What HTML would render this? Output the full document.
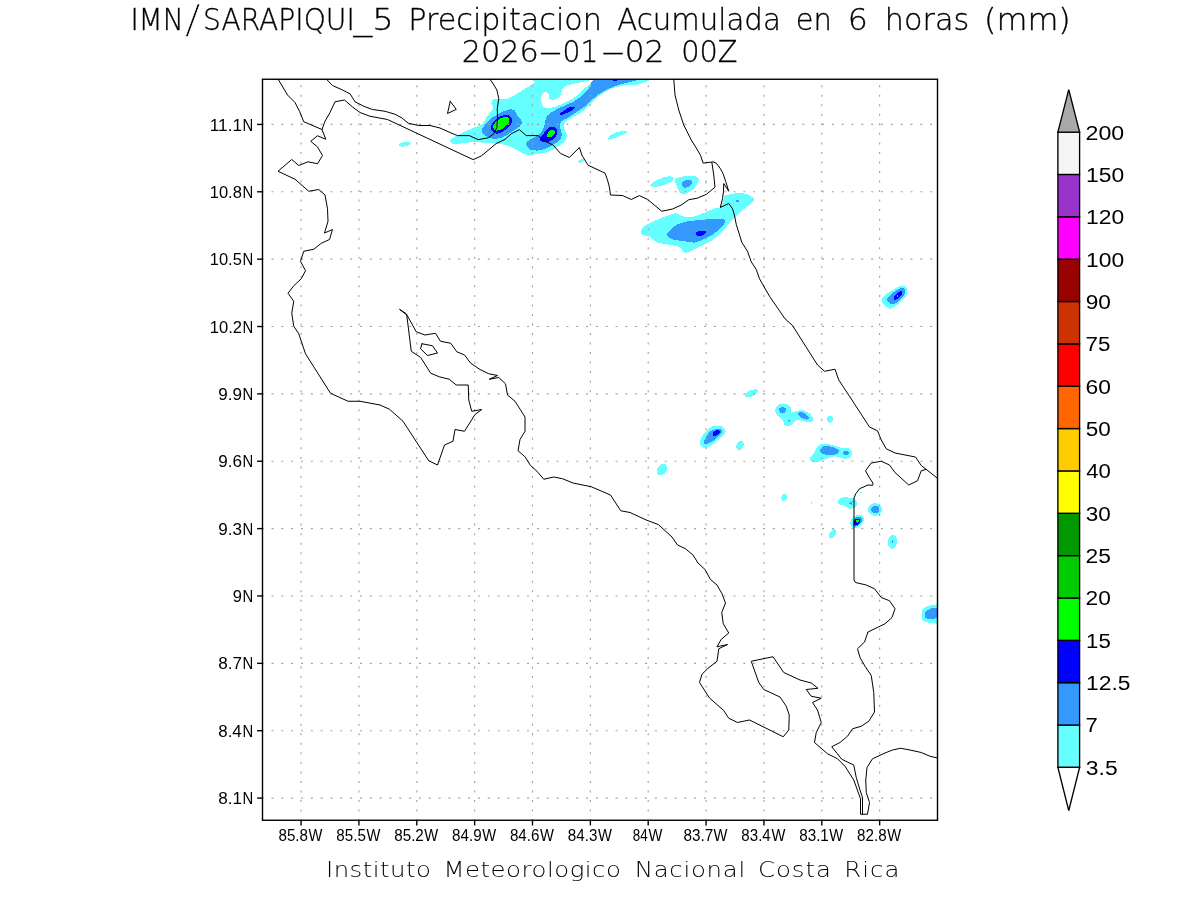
<!DOCTYPE html>
<html lang="es"><head><meta charset="utf-8"><title>IMN/SARAPIQUI_5 Precipitacion Acumulada en 6 horas (mm)</title>
<style>
html,body{margin:0;padding:0;background:#fff;}
body{width:1200px;height:900px;overflow:hidden;}
svg{display:block;}
.thin{font-family:"DejaVu Sans Light","DejaVu Sans","Liberation Sans",sans-serif;font-weight:200;}
.lab{font-family:"Liberation Sans","DejaVu Sans",sans-serif;}
.coast{fill:none;stroke:#000;stroke-width:1.0;stroke-linejoin:round;stroke-linecap:round;}
.grid{fill:none;stroke:#a2a2a2;stroke-width:1.15;}
.tick{stroke:#000;stroke-width:1.4;fill:none;}
</style></head><body>
<svg width="1200" height="900" viewBox="0 0 1200 900">
<rect width="1200" height="900" fill="#fff"/>
<defs><clipPath id="pc"><rect x="262.5" y="79.25" width="675.0" height="741.0"/></clipPath></defs>
<g clip-path="url(#pc)" shape-rendering="crispEdges">
<path d="M450 140 C450.35 139.20 452.51 138.30 453.75 137.5 C454.99 136.70 456.27 135.62 458.75 134.38 C461.23 133.14 467.89 130.26 471.25 128.75 C474.61 127.24 480.38 125.34 482.5 123.75 C484.62 122.16 485.01 119.27 486.25 117.5 C487.49 115.73 490.28 112.67 491.25 111.25 C492.22 109.83 493.12 108.56 493.12 107.5 C493.12 106.44 491.25 104.90 491.25 103.75 C491.25 102.60 492.06 100.09 493.12 99.38 C494.18 98.67 496.71 98.84 498.75 98.75 C500.79 98.66 505.20 99.28 507.5 98.75 C509.80 98.22 512.52 96.42 515 95 C517.48 93.58 522.17 90.52 525 88.75 C527.83 86.98 532.88 83.85 535 82.5 C537.12 81.15 524.59 79.71 540 79.25 C555.41 78.79 629.94 78.52 643.75 79.25 C657.56 79.98 640.16 83.57 637.5 84.38 C634.84 85.19 628.90 84.29 625 85 C621.10 85.71 613.72 87.79 610 89.38 C606.28 90.97 601.58 94.04 598.75 96.25 C595.92 98.46 592.48 102.70 590 105 C587.52 107.30 583.91 110.64 581.25 112.5 C578.59 114.36 573.55 116.70 571.25 118.12 C568.95 119.54 565.97 120.99 565 122.5 C564.03 124.01 564.11 126.80 564.38 128.75 C564.65 130.70 566.97 134.30 566.88 136.25 C566.79 138.20 565.26 140.91 563.75 142.5 C562.24 144.09 558.73 146.08 556.25 147.5 C553.77 148.92 549.26 151.53 546.25 152.5 C543.24 153.47 537.66 154.03 535 154.38 C532.34 154.73 529.27 155.18 527.5 155 C525.73 154.82 524.27 154.01 522.5 153.12 C520.73 152.23 517.48 149.90 515 148.75 C512.52 147.60 508.19 145.80 505 145 C501.81 144.20 495.86 143.47 492.5 143.12 C489.14 142.77 484.61 142.59 481.25 142.5 C477.89 142.41 472.47 142.23 468.75 142.5 C465.03 142.77 457.48 144.29 455 144.38 C452.52 144.47 451.96 143.74 451.25 143.12 C450.54 142.50 449.65 140.80 450 140Z" fill="#66ffff"/>
<path d="M541.25 96.25 C541.69 94.57 543.94 92.23 545 91.88 C546.06 91.53 548.22 92.87 548.75 93.75 C549.28 94.63 548.04 97.23 548.75 98.12 C549.46 99.01 552.16 100.26 553.75 100 C555.34 99.74 558.67 97.93 560 96.25 C561.33 94.57 561.88 89.71 563.12 88.12 C564.36 86.53 566.36 85.80 568.75 85 C571.14 84.20 576.55 83.24 580 82.5 C583.45 81.76 591.79 79.54 593.12 79.75 C594.45 79.96 591.06 82.37 589.38 84 C587.70 85.63 583.11 89.51 581.25 91.25 C579.39 92.99 577.84 95.01 576.25 96.25 C574.66 97.49 572.12 98.85 570 100 C567.88 101.15 563.73 103.32 561.25 104.38 C558.77 105.44 554.80 107.02 552.5 107.5 C550.20 107.98 546.50 108.28 545 107.75 C543.50 107.22 542.41 105.38 541.88 103.75 C541.35 102.12 540.81 97.93 541.25 96.25Z" fill="#ffffff"/>
<path d="M481.88 130 C482.23 128.40 484.75 124.89 486.25 123.12 C487.75 121.35 490.20 119.09 492.5 117.5 C494.80 115.91 500.02 113.03 502.5 111.88 C504.98 110.73 508.23 109.56 510 109.38 C511.77 109.20 513.94 109.65 515 110.62 C516.06 111.59 516.53 114.74 517.5 116.25 C518.47 117.76 521.53 119.83 521.88 121.25 C522.23 122.67 521.33 124.83 520 126.25 C518.67 127.67 514.62 129.83 512.5 131.25 C510.38 132.67 507.12 135.19 505 136.25 C502.88 137.31 499.62 138.49 497.5 138.75 C495.38 139.01 491.95 138.74 490 138.12 C488.05 137.50 484.90 135.53 483.75 134.38 C482.60 133.23 481.53 131.60 481.88 130Z" fill="#3399ff"/>
<path d="M491 126.25 C491.26 124.92 492.48 122.67 493.75 121.25 C495.02 119.83 498.05 117.14 500 116.25 C501.95 115.36 505.91 114.82 507.5 115 C509.09 115.18 510.63 116.44 511.25 117.5 C511.87 118.56 512.41 121.00 511.88 122.5 C511.35 124.00 509.01 126.70 507.5 128.12 C505.99 129.54 502.84 131.70 501.25 132.5 C499.66 133.30 497.58 134.02 496.25 133.75 C494.92 133.48 492.62 131.68 491.88 130.62 C491.14 129.56 490.74 127.58 491 126.25Z" fill="#0000ff"/>
<path d="M493.12 126.25 C493.47 125.19 494.92 122.49 496.25 121.25 C497.58 120.01 500.82 118.03 502.5 117.5 C504.18 116.97 507.15 116.97 508.12 117.5 C509.09 118.03 509.64 120.10 509.38 121.25 C509.12 122.40 507.40 124.47 506.25 125.62 C505.10 126.77 502.67 128.67 501.25 129.38 C499.83 130.09 497.31 130.71 496.25 130.62 C495.19 130.53 494.19 129.37 493.75 128.75 C493.31 128.13 492.77 127.31 493.12 126.25Z" fill="#00ff00"/>
<path d="M526.25 145 C525.90 143.85 526.44 142.31 527.5 141.25 C528.56 140.19 531.98 138.56 533.75 137.5 C535.52 136.44 538.58 135.17 540 133.75 C541.42 132.33 542.86 129.80 543.75 127.5 C544.64 125.20 545.54 119.36 546.25 117.5 C546.96 115.64 547.16 115.62 548.75 114.38 C550.34 113.14 555.20 109.99 557.5 108.75 C559.80 107.51 562.34 106.86 565 105.62 C567.66 104.38 573.59 101.68 576.25 100 C578.91 98.32 581.80 95.61 583.75 93.75 C585.70 91.89 588.23 88.93 590 86.88 C591.77 84.83 589.52 80.33 596.25 79.25 C602.98 78.17 633.07 78.79 637.5 79.25 C641.93 79.71 630.69 81.51 627.5 82.5 C624.31 83.49 618.54 84.92 615 86.25 C611.46 87.58 605.51 90.20 602.5 91.88 C599.49 93.56 596.05 96.17 593.75 98.12 C591.45 100.07 588.55 103.76 586.25 105.62 C583.95 107.48 580.16 109.48 577.5 111.25 C574.84 113.02 569.80 116.70 567.5 118.12 C565.20 119.54 562.31 119.92 561.25 121.25 C560.19 122.58 559.91 125.55 560 127.5 C560.09 129.45 562.06 133.05 561.88 135 C561.70 136.95 560.08 139.83 558.75 141.25 C557.42 142.67 554.45 143.94 552.5 145 C550.55 146.06 547.12 147.95 545 148.75 C542.88 149.55 539.62 150.53 537.5 150.62 C535.38 150.71 531.59 150.18 530 149.38 C528.41 148.58 526.60 146.15 526.25 145Z" fill="#3399ff"/>
<path d="M540 140 C539.65 138.94 541.61 136.42 542.5 135 C543.39 133.58 545.19 131.15 546.25 130 C547.31 128.85 548.76 127.23 550 126.88 C551.24 126.53 553.94 126.79 555 127.5 C556.06 128.21 557.41 130.55 557.5 131.88 C557.59 133.21 556.51 135.64 555.62 136.88 C554.73 138.12 552.75 139.82 551.25 140.62 C549.75 141.42 546.59 142.59 545 142.5 C543.41 142.41 540.35 141.06 540 140Z" fill="#0000ff"/>
<path d="M546.88 135 C547.11 134.17 548.58 132.01 549.38 131.25 C550.18 130.49 551.74 129.62 552.5 129.62 C553.26 129.62 554.48 130.58 554.75 131.25 C555.02 131.92 554.88 133.58 554.38 134.38 C553.88 135.18 552.19 136.49 551.25 136.88 C550.31 137.27 548.37 137.39 547.75 137.12 C547.13 136.85 546.65 135.83 546.88 135Z" fill="#00ff00"/>
<path d="M560 113.75 C560.26 113.13 562.33 111.54 563.75 110.62 C565.17 109.70 568.41 107.73 570 107.25 C571.59 106.77 574.65 106.86 575 107.25 C575.35 107.64 573.74 109.17 572.5 110 C571.26 110.83 567.75 112.41 566.25 113.12 C564.75 113.83 562.77 114.91 561.88 115 C560.99 115.09 559.74 114.37 560 113.75Z" fill="#0000ff"/>
<path d="M611.25 79.25 C611.96 79.04 617.41 79.04 618.12 79.25 C618.83 79.46 616.96 80.54 616.25 80.75 C615.54 80.96 613.83 80.96 613.12 80.75 C612.41 80.54 610.54 79.46 611.25 79.25Z" fill="#0000ff"/>
<path d="M410.64 143.39 C410.67 143.58 410.57 143.90 410.43 144.1 C410.29 144.30 409.94 144.63 409.65 144.83 C409.36 145.03 408.78 145.34 408.36 145.51 C407.94 145.68 407.19 145.93 406.69 146.06 C406.19 146.19 405.35 146.35 404.81 146.43 C404.27 146.51 403.41 146.58 402.89 146.59 C402.37 146.60 401.59 146.57 401.14 146.52 C400.69 146.47 400.05 146.34 399.71 146.23 C399.37 146.12 398.95 145.90 398.76 145.74 C398.57 145.58 398.39 145.30 398.36 145.11 C398.33 144.92 398.43 144.60 398.57 144.4 C398.71 144.20 399.06 143.87 399.35 143.67 C399.64 143.47 400.22 143.16 400.64 142.99 C401.06 142.82 401.81 142.57 402.31 142.44 C402.81 142.31 403.65 142.15 404.19 142.07 C404.73 141.99 405.59 141.92 406.11 141.91 C406.63 141.90 407.41 141.93 407.86 141.98 C408.31 142.03 408.95 142.16 409.29 142.27 C409.63 142.38 410.05 142.60 410.24 142.76 C410.43 142.92 410.61 143.20 410.64 143.39Z" fill="#66ffff"/>
<path d="M608.12 139.38 C607.77 138.94 608.67 136.68 610 135.62 C611.33 134.56 615.20 132.50 617.5 131.88 C619.80 131.26 625.01 131.07 626.25 131.25 C627.49 131.43 627.14 132.50 626.25 133.12 C625.36 133.74 621.95 134.82 620 135.62 C618.05 136.42 614.18 138.22 612.5 138.75 C610.82 139.28 608.47 139.82 608.12 139.38Z" fill="#66ffff"/>
<path d="M584.31 159.91 C584.36 160.03 584.36 160.24 584.32 160.39 C584.28 160.54 584.15 160.78 584.03 160.94 C583.91 161.10 583.67 161.35 583.48 161.5 C583.29 161.65 582.96 161.87 582.72 162 C582.48 162.13 582.07 162.31 581.81 162.41 C581.55 162.51 581.12 162.63 580.86 162.68 C580.60 162.73 580.19 162.78 579.95 162.78 C579.71 162.78 579.36 162.75 579.17 162.71 C578.98 162.67 578.72 162.57 578.6 162.48 C578.48 162.39 578.34 162.21 578.29 162.09 C578.24 161.97 578.24 161.76 578.28 161.61 C578.32 161.46 578.45 161.22 578.57 161.06 C578.69 160.90 578.93 160.65 579.12 160.5 C579.31 160.35 579.64 160.13 579.88 160 C580.12 159.87 580.53 159.69 580.79 159.59 C581.05 159.49 581.48 159.37 581.74 159.32 C582.00 159.27 582.41 159.22 582.65 159.22 C582.89 159.22 583.24 159.25 583.43 159.29 C583.62 159.33 583.88 159.43 584 159.52 C584.12 159.61 584.26 159.79 584.31 159.91Z" fill="#66ffff"/>
<path d="M650 185.62 C649.82 184.91 651.98 182.99 653.75 181.88 C655.52 180.77 660.20 178.55 662.5 177.75 C664.80 176.95 668.41 176.14 670 176.25 C671.59 176.36 673.57 177.70 673.75 178.5 C673.93 179.30 672.67 180.96 671.25 181.88 C669.83 182.80 666.05 184.29 663.75 185 C661.45 185.71 656.95 186.79 655 186.88 C653.05 186.97 650.18 186.33 650 185.62Z" fill="#66ffff"/>
<path d="M675 179.75 C675.71 178.19 679.67 177.03 682.5 176.5 C685.33 175.97 692.70 175.59 695 176 C697.30 176.41 698.57 178.02 698.75 179.38 C698.93 180.74 697.31 184.03 696.25 185.62 C695.19 187.21 692.84 189.47 691.25 190.62 C689.66 191.77 686.59 193.40 685 193.75 C683.41 194.10 681.06 194.01 680 193.12 C678.94 192.23 678.21 189.39 677.5 187.5 C676.79 185.61 674.29 181.31 675 179.75Z" fill="#66ffff"/>
<path d="M681.88 183.12 C682.23 182.06 684.92 180.35 686.25 180 C687.58 179.65 690.36 180.18 691.25 180.62 C692.14 181.06 692.94 182.23 692.5 183.12 C692.06 184.01 689.36 186.26 688.12 186.88 C686.88 187.50 684.63 188.03 683.75 187.5 C682.87 186.97 681.53 184.18 681.88 183.12Z" fill="#3399ff"/>
<path d="M706.45 182.81 C706.40 182.94 706.31 183.14 706.24 183.26 C706.17 183.38 706.04 183.54 705.96 183.63 C705.88 183.72 705.74 183.84 705.65 183.9 C705.56 183.96 705.43 184.02 705.34 184.03 C705.25 184.04 705.12 184.03 705.05 184 C704.98 183.97 704.88 183.90 704.82 183.83 C704.76 183.76 704.69 183.64 704.66 183.54 C704.63 183.44 704.59 183.25 704.59 183.13 C704.59 183.01 704.61 182.80 704.63 182.67 C704.65 182.54 704.70 182.32 704.75 182.19 C704.80 182.06 704.89 181.86 704.96 181.74 C705.03 181.62 705.16 181.46 705.24 181.37 C705.32 181.28 705.46 181.16 705.55 181.1 C705.64 181.04 705.77 180.98 705.86 180.97 C705.95 180.96 706.08 180.97 706.15 181 C706.22 181.03 706.32 181.10 706.38 181.17 C706.44 181.24 706.51 181.36 706.54 181.46 C706.57 181.56 706.61 181.75 706.61 181.87 C706.61 181.99 706.59 182.20 706.57 182.33 C706.55 182.46 706.50 182.68 706.45 182.81Z" fill="#66ffff"/>
<path d="M641 231.25 C641.18 230.01 641.77 227.76 643.75 226.25 C645.73 224.74 651.64 222.13 655 220.62 C658.36 219.11 664.49 216.68 667.5 215.62 C670.51 214.56 674.12 213.03 676.25 213.12 C678.38 213.21 680.20 215.72 682.5 216.25 C684.80 216.78 689.31 217.41 692.5 216.88 C695.69 216.35 701.81 213.74 705 212.5 C708.19 211.26 712.84 208.83 715 208.12 C717.16 207.41 719.10 208.47 720.25 207.5 C721.40 206.53 722.45 202.93 723.12 201.25 C723.79 199.57 722.96 196.77 725 195.62 C727.04 194.47 734.31 193.30 737.5 193.12 C740.69 192.94 745.20 193.58 747.5 194.38 C749.80 195.18 753.13 197.51 753.75 198.75 C754.37 199.99 753.12 201.79 751.88 203.12 C750.64 204.45 747.04 206.44 745 208.12 C742.96 209.80 739.62 212.96 737.5 215 C735.38 217.04 732.12 220.20 730 222.5 C727.88 224.80 724.98 228.77 722.5 231.25 C720.02 233.73 715.69 237.88 712.5 240 C709.31 242.12 703.54 244.48 700 246.25 C696.46 248.02 689.80 251.70 687.5 252.5 C685.20 253.30 684.99 252.68 683.75 251.88 C682.51 251.08 681.05 247.94 678.75 246.88 C676.45 245.82 670.51 245.00 667.5 244.38 C664.49 243.76 660.16 243.65 657.5 242.5 C654.84 241.35 650.88 237.31 648.75 236.25 C646.62 235.19 643.60 235.71 642.5 235 C641.40 234.29 640.82 232.49 641 231.25Z" fill="#66ffff"/>
<path d="M666.88 235 C666.53 233.67 668.67 231.42 670 230 C671.33 228.58 674.12 226.15 676.25 225 C678.38 223.85 681.64 222.59 685 221.88 C688.36 221.17 695.75 220.44 700 220 C704.25 219.56 711.64 218.84 715 218.75 C718.36 218.66 722.33 218.94 723.75 219.38 C725.17 219.82 725.35 220.73 725 221.88 C724.65 223.03 722.84 225.82 721.25 227.5 C719.66 229.18 716.05 232.16 713.75 233.75 C711.45 235.34 707.66 237.51 705 238.75 C702.34 239.99 697.83 242.15 695 242.5 C692.17 242.85 688.19 241.69 685 241.25 C681.81 240.81 675.07 240.27 672.5 239.38 C669.93 238.49 667.23 236.33 666.88 235Z" fill="#3399ff"/>
<path d="M695.62 233.12 C695.62 232.45 696.79 231.51 698.12 231.25 C699.45 230.99 703.85 231.07 705 231.25 C706.15 231.43 706.52 231.97 706.25 232.5 C705.98 233.03 704.27 234.50 703.12 235 C701.97 235.50 699.18 236.27 698.12 236 C697.06 235.73 695.62 233.79 695.62 233.12Z" fill="#0000ff"/>
<path d="M736 200.25 C736.44 199.82 739.88 199.40 740 199.75 C740.12 200.10 737.45 202.68 736.88 202.75 C736.31 202.82 735.56 200.68 736 200.25Z" fill="#3399ff"/>
<path d="M882 300 C882.14 299.50 882.29 298.42 883 297.5 C883.71 296.58 885.73 294.49 887 293.5 C888.27 292.51 890.58 291.35 892 290.5 C893.42 289.65 895.73 288.14 897 287.5 C898.27 286.86 899.87 286.21 901 286 C902.13 285.79 904.15 285.50 905 286 C905.85 286.50 906.72 288.37 907 289.5 C907.28 290.63 907.28 292.87 907 294 C906.72 295.13 905.85 296.37 905 297.5 C904.15 298.63 902.13 300.94 901 302 C899.87 303.06 898.13 304.22 897 305 C895.87 305.78 894.06 306.93 893 307.5 C891.94 308.07 890.42 309.14 889.5 309 C888.58 308.86 887.42 307.28 886.5 306.5 C885.58 305.72 883.64 304.28 883 303.5 C882.36 302.72 882.14 301.50 882 301 C881.86 300.50 881.86 300.50 882 300Z" fill="#66ffff"/>
<path d="M887 299.5 C887.14 298.79 888.08 297.49 889 296.5 C889.92 295.51 892.23 293.49 893.5 292.5 C894.77 291.51 896.80 290.12 898 289.5 C899.20 288.88 901.08 288.17 902 288.1 C902.92 288.03 904.08 288.38 904.5 289 C904.92 289.62 905.21 291.44 905 292.5 C904.79 293.56 903.78 295.37 903 296.5 C902.22 297.63 900.63 299.47 899.5 300.5 C898.37 301.53 896.27 303.27 895 303.75 C893.73 304.23 891.49 304.22 890.5 303.9 C889.51 303.58 888.50 302.12 888 301.5 C887.50 300.88 886.86 300.21 887 299.5Z" fill="#3399ff"/>
<path d="M894 297 C894.42 296.11 896.08 294.35 897 293.5 C897.92 292.65 899.79 291.28 900.5 291 C901.21 290.72 901.79 291.00 902 291.5 C902.21 292.00 902.28 293.72 902 294.5 C901.72 295.28 900.85 296.26 900 297 C899.15 297.74 896.85 299.36 896 299.75 C895.15 300.14 894.28 300.14 894 299.75 C893.72 299.36 893.58 297.89 894 297Z" fill="#0000ff"/>
<path d="M898.2 296 C898.20 296.10 898.19 296.25 898.17 296.34 C898.15 296.43 898.11 296.57 898.07 296.65 C898.03 296.73 897.96 296.83 897.91 296.89 C897.86 296.95 897.78 297.02 897.72 297.05 C897.66 297.08 897.56 297.10 897.5 297.1 C897.44 297.10 897.34 297.08 897.28 297.05 C897.22 297.02 897.14 296.95 897.09 296.89 C897.04 296.83 896.97 296.73 896.93 296.65 C896.89 296.57 896.85 296.43 896.83 296.34 C896.81 296.25 896.80 296.10 896.8 296 C896.80 295.90 896.81 295.75 896.83 295.66 C896.85 295.57 896.89 295.43 896.93 295.35 C896.97 295.27 897.04 295.17 897.09 295.11 C897.14 295.05 897.22 294.98 897.28 294.95 C897.34 294.92 897.44 294.90 897.5 294.9 C897.56 294.90 897.66 294.92 897.72 294.95 C897.78 294.98 897.86 295.05 897.91 295.11 C897.96 295.17 898.03 295.27 898.07 295.35 C898.11 295.43 898.15 295.57 898.17 295.66 C898.19 295.75 898.20 295.90 898.2 296Z" fill="#00ff00"/>
<path d="M757.83 390.36 C757.94 390.60 757.97 391.04 757.9 391.35 C757.83 391.66 757.57 392.19 757.32 392.54 C757.07 392.89 756.56 393.45 756.16 393.81 C755.76 394.17 755.03 394.72 754.52 395.05 C754.01 395.38 753.14 395.85 752.57 396.12 C752.00 396.39 751.07 396.75 750.49 396.93 C749.91 397.11 749.02 397.31 748.49 397.39 C747.96 397.47 747.19 397.50 746.77 397.46 C746.35 397.42 745.77 397.27 745.49 397.13 C745.21 396.99 744.88 396.68 744.77 396.44 C744.66 396.20 744.63 395.76 744.7 395.45 C744.77 395.14 745.03 394.61 745.28 394.26 C745.53 393.91 746.04 393.35 746.44 392.99 C746.84 392.63 747.57 392.08 748.08 391.75 C748.59 391.42 749.46 390.95 750.03 390.68 C750.60 390.41 751.53 390.05 752.11 389.87 C752.69 389.69 753.58 389.49 754.11 389.41 C754.64 389.33 755.41 389.30 755.83 389.34 C756.25 389.38 756.83 389.53 757.11 389.67 C757.39 389.81 757.72 390.12 757.83 390.36Z" fill="#66ffff"/>
<path d="M700 443.75 C699.65 442.26 700.36 439.27 701.25 437.5 C702.14 435.73 704.66 432.84 706.25 431.25 C707.84 429.66 710.38 426.96 712.5 426.25 C714.62 425.54 719.37 425.54 721.25 426.25 C723.13 426.96 725.57 429.83 725.75 431.25 C725.93 432.67 723.85 434.83 722.5 436.25 C721.15 437.67 718.02 439.83 716.25 441.25 C714.48 442.67 711.77 445.29 710 446.25 C708.23 447.21 705.17 448.35 703.75 448 C702.33 447.65 700.35 445.24 700 443.75Z" fill="#66ffff"/>
<path d="M703.75 442 C703.75 440.87 705.19 437.84 706.25 436.25 C707.31 434.66 709.48 431.81 711.25 430.75 C713.02 429.69 717.16 428.68 718.75 428.75 C720.34 428.82 722.50 430.19 722.5 431.25 C722.50 432.31 720.17 434.83 718.75 436.25 C717.33 437.67 714.27 440.12 712.5 441.25 C710.73 442.38 707.49 444.14 706.25 444.25 C705.01 444.36 703.75 443.13 703.75 442Z" fill="#3399ff"/>
<path d="M712.5 433.75 C712.75 433.08 714.01 431.21 715 430.75 C715.99 430.29 718.86 430.18 719.5 430.5 C720.14 430.82 719.96 432.29 719.5 433 C719.04 433.71 717.14 435.15 716.25 435.5 C715.36 435.85 713.78 435.75 713.25 435.5 C712.72 435.25 712.25 434.42 712.5 433.75Z" fill="#0000ff"/>
<path d="M743.26 447.02 C743.08 447.40 742.74 447.97 742.48 448.29 C742.22 448.61 741.76 449.06 741.45 449.29 C741.14 449.52 740.62 449.79 740.28 449.91 C739.94 450.03 739.41 450.12 739.08 450.11 C738.75 450.10 738.26 449.98 737.97 449.85 C737.68 449.72 737.28 449.41 737.06 449.17 C736.84 448.93 736.57 448.46 736.44 448.13 C736.31 447.80 736.19 447.22 736.17 446.83 C736.15 446.44 736.19 445.80 736.27 445.4 C736.35 445.00 736.56 444.36 736.74 443.98 C736.92 443.60 737.26 443.03 737.52 442.71 C737.78 442.39 738.24 441.94 738.55 441.71 C738.86 441.48 739.38 441.21 739.72 441.09 C740.06 440.97 740.59 440.88 740.92 440.89 C741.25 440.90 741.74 441.02 742.03 441.15 C742.32 441.28 742.72 441.59 742.94 441.83 C743.16 442.07 743.43 442.54 743.56 442.87 C743.69 443.20 743.81 443.78 743.83 444.17 C743.85 444.56 743.81 445.20 743.73 445.6 C743.65 446.00 743.44 446.64 743.26 447.02Z" fill="#66ffff"/>
<path d="M665.69 472.18 C665.38 472.62 664.81 473.27 664.41 473.62 C664.01 473.97 663.33 474.44 662.89 474.67 C662.45 474.90 661.73 475.15 661.29 475.23 C660.85 475.31 660.16 475.31 659.76 475.23 C659.36 475.15 658.76 474.91 658.44 474.68 C658.12 474.45 657.69 473.98 657.48 473.63 C657.27 473.28 657.04 472.63 656.96 472.19 C656.88 471.75 656.87 470.99 656.93 470.5 C656.99 470.01 657.20 469.20 657.4 468.71 C657.60 468.22 658.00 467.46 658.31 467.02 C658.62 466.58 659.19 465.93 659.59 465.58 C659.99 465.23 660.67 464.76 661.11 464.53 C661.55 464.30 662.27 464.05 662.71 463.97 C663.15 463.89 663.84 463.89 664.24 463.97 C664.64 464.05 665.24 464.29 665.56 464.52 C665.88 464.75 666.31 465.22 666.52 465.57 C666.73 465.92 666.96 466.57 667.04 467.01 C667.12 467.45 667.13 468.21 667.07 468.7 C667.01 469.19 666.80 470.00 666.6 470.49 C666.40 470.98 666.00 471.74 665.69 472.18Z" fill="#66ffff"/>
<path d="M775 410 C775.07 408.51 776.58 405.85 778 405 C779.42 404.15 783.12 403.65 785 404 C786.88 404.35 790.36 406.30 791.25 407.5 C792.14 408.70 790.54 411.97 791.25 412.5 C791.96 413.03 794.66 411.60 796.25 411.25 C797.84 410.90 800.55 409.65 802.5 410 C804.45 410.35 808.48 412.33 810 413.75 C811.52 415.17 813.43 418.76 813.25 420 C813.07 421.24 810.45 422.43 808.75 422.5 C807.05 422.57 803.02 420.85 801.25 420.5 C799.48 420.15 797.67 419.36 796.25 420 C794.83 420.64 792.84 424.22 791.25 425 C789.66 425.78 786.24 426.21 785 425.5 C783.76 424.79 783.56 421.42 782.5 420 C781.44 418.58 778.56 416.92 777.5 415.5 C776.44 414.08 774.93 411.49 775 410Z" fill="#66ffff"/>
<path d="M778.75 409.25 C779.03 408.44 781.44 406.75 782.5 406.75 C783.56 406.75 786.00 408.36 786.25 409.25 C786.50 410.14 785.06 412.54 784.25 413 C783.44 413.46 781.28 413.03 780.5 412.5 C779.72 411.97 778.47 410.06 778.75 409.25Z" fill="#3399ff"/>
<path d="M798 413 C798.35 412.36 801.41 411.79 803 412.5 C804.59 413.21 808.79 417.01 809.25 418 C809.71 418.99 807.49 419.64 806.25 419.5 C805.01 419.36 801.67 417.92 800.5 417 C799.33 416.08 797.65 413.64 798 413Z" fill="#3399ff"/>
<path d="M790.2 420.8 C790.20 420.88 790.18 421.00 790.16 421.08 C790.14 421.16 790.08 421.27 790.03 421.33 C789.98 421.39 789.89 421.48 789.83 421.53 C789.77 421.58 789.66 421.64 789.58 421.66 C789.50 421.68 789.38 421.70 789.3 421.7 C789.22 421.70 789.10 421.68 789.02 421.66 C788.94 421.64 788.83 421.58 788.77 421.53 C788.71 421.48 788.62 421.39 788.57 421.33 C788.52 421.27 788.46 421.16 788.44 421.08 C788.42 421.00 788.40 420.88 788.4 420.8 C788.40 420.72 788.42 420.60 788.44 420.52 C788.46 420.44 788.52 420.33 788.57 420.27 C788.62 420.21 788.71 420.12 788.77 420.07 C788.83 420.02 788.94 419.96 789.02 419.94 C789.10 419.92 789.22 419.90 789.3 419.9 C789.38 419.90 789.50 419.92 789.58 419.94 C789.66 419.96 789.77 420.02 789.83 420.07 C789.89 420.12 789.98 420.21 790.03 420.27 C790.08 420.33 790.14 420.44 790.16 420.52 C790.18 420.60 790.20 420.72 790.2 420.8Z" fill="#3399ff"/>
<path d="M833 419.3 C833.00 419.60 832.93 420.07 832.85 420.35 C832.77 420.63 832.58 421.06 832.43 421.3 C832.28 421.54 831.97 421.88 831.76 422.05 C831.55 422.22 831.18 422.44 830.93 422.53 C830.68 422.62 830.26 422.70 830 422.7 C829.74 422.70 829.32 422.62 829.07 422.53 C828.82 422.44 828.45 422.22 828.24 422.05 C828.03 421.88 827.72 421.54 827.57 421.3 C827.42 421.06 827.23 420.63 827.15 420.35 C827.07 420.07 827.00 419.60 827 419.3 C827.00 419.00 827.07 418.53 827.15 418.25 C827.23 417.97 827.42 417.54 827.57 417.3 C827.72 417.06 828.03 416.72 828.24 416.55 C828.45 416.38 828.82 416.16 829.07 416.07 C829.32 415.98 829.74 415.90 830 415.9 C830.26 415.90 830.68 415.98 830.93 416.07 C831.18 416.16 831.55 416.38 831.76 416.55 C831.97 416.72 832.28 417.06 832.43 417.3 C832.58 417.54 832.77 417.97 832.85 418.25 C832.93 418.53 833.00 419.00 833 419.3Z" fill="#66ffff"/>
<path d="M809.5 458.75 C809.68 457.58 812.62 455.52 813.75 453.75 C814.88 451.98 816.08 447.67 817.5 446.25 C818.92 444.83 821.62 443.93 823.75 443.75 C825.88 443.57 830.20 444.47 832.5 445 C834.80 445.53 837.70 447.07 840 447.5 C842.30 447.93 847.05 447.29 848.75 448 C850.45 448.71 851.82 451.15 852 452.5 C852.18 453.85 851.17 456.61 850 457.5 C848.83 458.39 845.88 458.93 843.75 458.75 C841.62 458.57 837.30 456.25 835 456.25 C832.70 456.25 829.62 458.04 827.5 458.75 C825.38 459.46 822.12 460.79 820 461.25 C817.88 461.71 813.99 462.35 812.5 462 C811.01 461.65 809.32 459.92 809.5 458.75Z" fill="#66ffff"/>
<path d="M820 450 C820.18 448.94 821.98 446.68 823.75 446.25 C825.52 445.82 830.38 446.47 832.5 447 C834.62 447.53 838.04 449.04 838.75 450 C839.46 450.96 838.74 453.04 837.5 453.75 C836.26 454.46 832.12 455.00 830 455 C827.88 455.00 823.92 454.46 822.5 453.75 C821.08 453.04 819.82 451.06 820 450Z" fill="#3399ff"/>
<path d="M843.25 452 C843.71 451.47 846.15 450.61 847 450.75 C847.85 450.89 849.25 452.33 849.25 453 C849.25 453.67 847.78 455.29 847 455.5 C846.22 455.71 844.28 455.00 843.75 454.5 C843.22 454.00 842.79 452.53 843.25 452Z" fill="#3399ff"/>
<path d="M786.72 498.9 C786.56 499.17 786.27 499.57 786.05 499.79 C785.83 500.01 785.45 500.32 785.2 500.47 C784.95 500.62 784.53 500.79 784.27 500.85 C784.01 500.91 783.59 500.93 783.34 500.9 C783.09 500.87 782.71 500.74 782.5 500.62 C782.29 500.50 781.99 500.23 781.84 500.03 C781.69 499.83 781.50 499.46 781.42 499.2 C781.34 498.94 781.28 498.49 781.28 498.2 C781.28 497.91 781.36 497.43 781.44 497.13 C781.53 496.83 781.72 496.37 781.88 496.1 C782.04 495.83 782.33 495.43 782.55 495.21 C782.77 494.99 783.15 494.68 783.4 494.53 C783.65 494.38 784.07 494.21 784.33 494.15 C784.59 494.09 785.01 494.07 785.26 494.1 C785.51 494.13 785.89 494.26 786.1 494.38 C786.31 494.50 786.61 494.77 786.76 494.97 C786.91 495.17 787.10 495.54 787.18 495.8 C787.26 496.06 787.32 496.51 787.32 496.8 C787.32 497.09 787.25 497.57 787.16 497.87 C787.07 498.17 786.88 498.63 786.72 498.9Z" fill="#66ffff"/>
<path d="M811.9 503 C811.90 503.08 811.89 503.20 811.87 503.28 C811.85 503.36 811.82 503.47 811.79 503.53 C811.76 503.59 811.69 503.68 811.65 503.73 C811.61 503.78 811.54 503.84 811.49 503.86 C811.44 503.88 811.35 503.90 811.3 503.9 C811.25 503.90 811.16 503.88 811.11 503.86 C811.06 503.84 810.99 503.78 810.95 503.73 C810.91 503.68 810.84 503.59 810.81 503.53 C810.78 503.47 810.75 503.36 810.73 503.28 C810.71 503.20 810.70 503.08 810.7 503 C810.70 502.92 810.71 502.80 810.73 502.72 C810.75 502.64 810.78 502.53 810.81 502.47 C810.84 502.41 810.91 502.32 810.95 502.27 C810.99 502.22 811.06 502.16 811.11 502.14 C811.16 502.12 811.25 502.10 811.3 502.1 C811.35 502.10 811.44 502.12 811.49 502.14 C811.54 502.16 811.61 502.22 811.65 502.27 C811.69 502.32 811.76 502.41 811.79 502.47 C811.82 502.53 811.85 502.64 811.87 502.72 C811.89 502.80 811.90 502.92 811.9 503Z" fill="#66ffff"/>
<path d="M862.4 492.6 C862.40 492.67 862.37 492.78 862.34 492.85 C862.31 492.92 862.23 493.01 862.17 493.07 C862.11 493.13 862.00 493.21 861.91 493.25 C861.82 493.29 861.67 493.34 861.57 493.36 C861.47 493.38 861.30 493.40 861.2 493.4 C861.10 493.40 860.93 493.38 860.83 493.36 C860.73 493.34 860.58 493.29 860.49 493.25 C860.40 493.21 860.29 493.13 860.23 493.07 C860.17 493.01 860.09 492.92 860.06 492.85 C860.03 492.78 860.00 492.67 860 492.6 C860.00 492.53 860.03 492.42 860.06 492.35 C860.09 492.28 860.17 492.19 860.23 492.13 C860.29 492.07 860.40 491.99 860.49 491.95 C860.58 491.91 860.73 491.86 860.83 491.84 C860.93 491.82 861.10 491.80 861.2 491.8 C861.30 491.80 861.47 491.82 861.57 491.84 C861.67 491.86 861.82 491.91 861.91 491.95 C862.00 491.99 862.11 492.07 862.17 492.13 C862.23 492.19 862.31 492.28 862.34 492.35 C862.37 492.42 862.40 492.53 862.4 492.6Z" fill="#66ffff"/>
<path d="M838 500 C838.53 499.04 840.45 497.78 842.5 497.5 C844.55 497.22 850.45 497.47 852.5 498 C854.55 498.53 856.47 500.08 857 501.25 C857.53 502.42 857.24 505.19 856.25 506.25 C855.26 507.31 851.77 508.86 850 508.75 C848.23 508.64 845.34 506.14 843.75 505.5 C842.16 504.86 839.56 505.03 838.75 504.25 C837.94 503.47 837.47 500.96 838 500Z" fill="#66ffff"/>
<path d="M849 503 C849.14 502.57 852.15 501.29 852.5 501.5 C852.85 501.71 852.00 504.29 851.5 504.5 C851.00 504.71 848.86 503.43 849 503Z" fill="#3399ff"/>
<path d="M881.9 509.5 C881.90 510.04 881.75 510.90 881.56 511.42 C881.37 511.94 880.93 512.70 880.58 513.14 C880.23 513.58 879.55 514.20 879.06 514.52 C878.57 514.84 877.71 515.23 877.13 515.4 C876.55 515.57 875.60 515.70 875 515.7 C874.40 515.70 873.45 515.57 872.87 515.4 C872.29 515.23 871.43 514.84 870.94 514.52 C870.45 514.20 869.77 513.58 869.42 513.14 C869.07 512.70 868.63 511.94 868.44 511.42 C868.25 510.90 868.10 510.04 868.1 509.5 C868.10 508.96 868.25 508.10 868.44 507.58 C868.63 507.06 869.07 506.30 869.42 505.86 C869.77 505.42 870.45 504.80 870.94 504.48 C871.43 504.16 872.29 503.77 872.87 503.6 C873.45 503.43 874.40 503.30 875 503.3 C875.60 503.30 876.55 503.43 877.13 503.6 C877.71 503.77 878.57 504.16 879.06 504.48 C879.55 504.80 880.23 505.42 880.58 505.86 C880.93 506.30 881.37 507.06 881.56 507.58 C881.75 508.10 881.90 508.96 881.9 509.5Z" fill="#66ffff"/>
<path d="M879.4 509.5 C879.40 509.83 879.30 510.35 879.19 510.67 C879.08 510.99 878.82 511.46 878.6 511.73 C878.38 512.00 877.97 512.37 877.67 512.57 C877.37 512.77 876.85 513.01 876.5 513.11 C876.15 513.21 875.57 513.30 875.2 513.3 C874.83 513.30 874.25 513.21 873.9 513.11 C873.55 513.01 873.03 512.77 872.73 512.57 C872.43 512.37 872.02 512.00 871.8 511.73 C871.58 511.46 871.32 510.99 871.21 510.67 C871.10 510.35 871.00 509.83 871 509.5 C871.00 509.17 871.10 508.65 871.21 508.33 C871.32 508.01 871.58 507.54 871.8 507.27 C872.02 507.00 872.43 506.63 872.73 506.43 C873.03 506.23 873.55 505.99 873.9 505.89 C874.25 505.79 874.83 505.70 875.2 505.7 C875.57 505.70 876.15 505.79 876.5 505.89 C876.85 505.99 877.37 506.23 877.67 506.43 C877.97 506.63 878.38 507.00 878.6 507.27 C878.82 507.54 879.08 508.01 879.19 508.33 C879.30 508.65 879.40 509.17 879.4 509.5Z" fill="#3399ff"/>
<path d="M850.25 523.12 C850.25 521.88 851.12 519.81 851.88 518.75 C852.64 517.69 854.29 516.15 855.62 515.62 C856.95 515.09 860.06 514.73 861.25 515 C862.44 515.27 863.74 516.53 864 517.5 C864.26 518.47 863.69 520.73 863.12 521.88 C862.55 523.03 861.06 524.74 860 525.62 C858.94 526.50 856.77 527.85 855.62 528.12 C854.47 528.39 852.64 528.21 851.88 527.5 C851.12 526.79 850.25 524.36 850.25 523.12Z" fill="#66ffff"/>
<path d="M852.5 523.12 C852.62 522.18 853.38 520.26 854 519.38 C854.62 518.50 855.94 517.23 856.88 516.88 C857.82 516.53 859.88 516.58 860.62 516.88 C861.36 517.18 862.03 518.24 862.12 519 C862.21 519.76 861.73 521.40 861.25 522.25 C860.77 523.10 859.55 524.40 858.75 525 C857.95 525.60 856.42 526.36 855.62 526.5 C854.82 526.64 853.56 526.48 853.12 526 C852.68 525.52 852.38 524.06 852.5 523.12Z" fill="#3399ff"/>
<path d="M853.75 522.5 C853.89 521.81 854.43 520.32 855 519.75 C855.57 519.18 857.04 518.55 857.75 518.5 C858.46 518.45 859.68 518.90 860 519.38 C860.32 519.86 860.27 521.17 860 521.88 C859.73 522.59 858.74 523.90 858.12 524.38 C857.50 524.86 856.20 525.22 855.62 525.25 C855.04 525.28 854.26 525.01 854 524.62 C853.74 524.23 853.61 523.19 853.75 522.5Z" fill="#0000ff"/>
<path d="M855.75 520.12 C856.00 519.77 859.00 519.77 859.25 520.12 C859.50 520.47 858.00 522.62 857.5 522.62 C857.00 522.62 855.50 520.47 855.75 520.12Z" fill="#00ff00"/>
<path d="M835.06 535.52 C834.81 535.88 834.36 536.41 834.05 536.7 C833.74 536.99 833.23 537.40 832.9 537.6 C832.57 537.80 832.04 538.03 831.72 538.12 C831.40 538.21 830.91 538.26 830.63 538.23 C830.35 538.20 829.95 538.05 829.73 537.9 C829.51 537.75 829.24 537.41 829.11 537.16 C828.98 536.90 828.87 536.43 828.84 536.1 C828.81 535.77 828.85 535.20 828.93 534.82 C829.01 534.44 829.21 533.82 829.38 533.43 C829.55 533.04 829.89 532.44 830.14 532.08 C830.39 531.72 830.84 531.19 831.15 530.9 C831.46 530.61 831.97 530.20 832.3 530 C832.63 529.80 833.16 529.57 833.48 529.48 C833.80 529.39 834.29 529.34 834.57 529.37 C834.85 529.40 835.25 529.55 835.47 529.7 C835.69 529.85 835.96 530.19 836.09 530.44 C836.22 530.70 836.33 531.17 836.36 531.5 C836.39 531.83 836.35 532.40 836.27 532.78 C836.19 533.16 835.99 533.78 835.82 534.17 C835.65 534.56 835.31 535.16 835.06 535.52Z" fill="#66ffff"/>
<path d="M896.98 542.19 C896.93 542.80 896.74 543.76 896.57 544.33 C896.40 544.90 896.04 545.75 895.77 546.22 C895.50 546.69 894.99 547.34 894.64 547.67 C894.29 548.00 893.70 548.39 893.31 548.55 C892.92 548.71 892.28 548.80 891.89 548.77 C891.50 548.74 890.89 548.53 890.53 548.31 C890.17 548.09 889.66 547.60 889.37 547.21 C889.08 546.82 888.70 546.09 888.51 545.58 C888.32 545.07 888.12 544.17 888.05 543.58 C887.98 542.99 887.97 542.02 888.02 541.41 C888.07 540.80 888.26 539.84 888.43 539.27 C888.60 538.70 888.96 537.85 889.23 537.38 C889.50 536.91 890.01 536.26 890.36 535.93 C890.71 535.60 891.30 535.21 891.69 535.05 C892.08 534.89 892.72 534.80 893.11 534.83 C893.50 534.86 894.11 535.07 894.47 535.29 C894.83 535.51 895.34 536.00 895.63 536.39 C895.92 536.78 896.30 537.51 896.49 538.02 C896.68 538.53 896.88 539.43 896.95 540.02 C897.02 540.61 897.03 541.58 896.98 542.19Z" fill="#66ffff"/>
<path d="M893.5 541.8 C893.50 541.94 893.48 542.16 893.45 542.29 C893.42 542.42 893.36 542.63 893.31 542.74 C893.26 542.85 893.16 543.01 893.09 543.09 C893.02 543.17 892.89 543.28 892.81 543.32 C892.73 543.36 892.59 543.40 892.5 543.4 C892.41 543.40 892.27 543.36 892.19 543.32 C892.11 543.28 891.98 543.17 891.91 543.09 C891.84 543.01 891.74 542.85 891.69 542.74 C891.64 542.63 891.58 542.42 891.55 542.29 C891.52 542.16 891.50 541.94 891.5 541.8 C891.50 541.66 891.52 541.44 891.55 541.31 C891.58 541.18 891.64 540.97 891.69 540.86 C891.74 540.75 891.84 540.59 891.91 540.51 C891.98 540.43 892.11 540.32 892.19 540.28 C892.27 540.24 892.41 540.20 892.5 540.2 C892.59 540.20 892.73 540.24 892.81 540.28 C892.89 540.32 893.02 540.43 893.09 540.51 C893.16 540.59 893.26 540.75 893.31 540.86 C893.36 540.97 893.42 541.18 893.45 541.31 C893.48 541.44 893.50 541.66 893.5 541.8Z" fill="#3399ff"/>
<path d="M922 611.5 C922.17 610.72 922.43 609.64 923 609 C923.57 608.36 924.87 607.55 926 607 C927.13 606.45 929.73 605.41 931 605.1 C932.27 604.79 933.73 604.84 935 604.8 C936.27 604.76 939.29 602.21 940 604.8 C940.71 607.39 940.71 620.51 940 623.1 C939.29 625.69 936.42 623.11 935 623.1 C933.58 623.09 931.42 623.19 930 623 C928.58 622.81 926.06 622.17 925 621.75 C923.94 621.33 922.94 620.53 922.5 620 C922.06 619.47 922.00 618.78 921.9 618 C921.80 617.22 921.79 615.42 921.8 614.5 C921.81 613.58 921.83 612.28 922 611.5Z" fill="#66ffff"/>
<path d="M925 612.5 C925.31 611.83 926.01 610.85 927 610.25 C927.99 609.65 930.73 608.58 932 608.25 C933.27 607.92 934.87 607.95 936 607.9 C937.13 607.85 939.43 606.61 940 607.9 C940.57 609.19 940.42 615.68 940 617 C939.58 618.32 937.71 617.00 937 617.25 C936.29 617.50 936.20 618.52 935 618.75 C933.80 618.98 929.92 619.08 928.5 618.9 C927.08 618.72 925.52 618.05 925 617.5 C924.48 616.95 924.80 615.71 924.8 615 C924.80 614.29 924.69 613.17 925 612.5Z" fill="#3399ff"/>
</g>
<g class="grid" clip-path="url(#pc)">
<line x1="301.07" y1="820.25" x2="301.07" y2="79.25" stroke-dasharray="2 7.53" stroke-dashoffset="0.78"/>
<line x1="358.93" y1="820.25" x2="358.93" y2="79.25" stroke-dasharray="2 7.53" stroke-dashoffset="0.78"/>
<line x1="416.79" y1="820.25" x2="416.79" y2="79.25" stroke-dasharray="2 7.53" stroke-dashoffset="0.78"/>
<line x1="474.64" y1="820.25" x2="474.64" y2="79.25" stroke-dasharray="2 7.53" stroke-dashoffset="0.78"/>
<line x1="532.50" y1="820.25" x2="532.50" y2="79.25" stroke-dasharray="2 7.53" stroke-dashoffset="0.78"/>
<line x1="590.36" y1="820.25" x2="590.36" y2="79.25" stroke-dasharray="2 7.53" stroke-dashoffset="0.78"/>
<line x1="648.21" y1="820.25" x2="648.21" y2="79.25" stroke-dasharray="2 7.53" stroke-dashoffset="0.78"/>
<line x1="706.07" y1="820.25" x2="706.07" y2="79.25" stroke-dasharray="2 7.53" stroke-dashoffset="0.78"/>
<line x1="763.93" y1="820.25" x2="763.93" y2="79.25" stroke-dasharray="2 7.53" stroke-dashoffset="0.78"/>
<line x1="821.79" y1="820.25" x2="821.79" y2="79.25" stroke-dasharray="2 7.53" stroke-dashoffset="0.78"/>
<line x1="879.64" y1="820.25" x2="879.64" y2="79.25" stroke-dasharray="2 7.53" stroke-dashoffset="0.78"/>
<line x1="262.5" y1="124.43" x2="937.5" y2="124.43" stroke-dasharray="2 7.83" stroke-dashoffset="0.83"/>
<line x1="262.5" y1="191.79" x2="937.5" y2="191.79" stroke-dasharray="2 7.83" stroke-dashoffset="0.83"/>
<line x1="262.5" y1="259.16" x2="937.5" y2="259.16" stroke-dasharray="2 7.83" stroke-dashoffset="0.83"/>
<line x1="262.5" y1="326.52" x2="937.5" y2="326.52" stroke-dasharray="2 7.83" stroke-dashoffset="0.83"/>
<line x1="262.5" y1="393.88" x2="937.5" y2="393.88" stroke-dasharray="2 7.83" stroke-dashoffset="0.83"/>
<line x1="262.5" y1="461.25" x2="937.5" y2="461.25" stroke-dasharray="2 7.83" stroke-dashoffset="0.83"/>
<line x1="262.5" y1="528.61" x2="937.5" y2="528.61" stroke-dasharray="2 7.83" stroke-dashoffset="0.83"/>
<line x1="262.5" y1="595.97" x2="937.5" y2="595.97" stroke-dasharray="2 7.83" stroke-dashoffset="0.83"/>
<line x1="262.5" y1="663.34" x2="937.5" y2="663.34" stroke-dasharray="2 7.83" stroke-dashoffset="0.83"/>
<line x1="262.5" y1="730.70" x2="937.5" y2="730.70" stroke-dasharray="2 7.83" stroke-dashoffset="0.83"/>
<line x1="262.5" y1="798.07" x2="937.5" y2="798.07" stroke-dasharray="2 7.83" stroke-dashoffset="0.83"/>
</g>
<g class="coast" clip-path="url(#pc)">
<path d="M278 79 L287.5 95 L295 102.5 L299.5 111.25 L303.75 121.75 L322 129.5 L325.75 139.25 L317.5 135.75 L310.75 141.25 L317.5 147 L322.5 155.5 L317.5 163.75 L308 161.75 L298.75 165.5 L291.75 159.5 L278 171.25 L295 179.25 L308.75 191.25 L318.75 189.5 L325 195 L327.5 208.75 L328 221.25 L324.5 233 L332.5 229.5 L329.5 239.5 L321.25 243.25 L313.75 249.25 L303.75 251.25 L300.5 261.25 L305.5 270.75 L301.25 278.75 L293.75 285.75 L288 293.25 L293.75 301.25 L291.75 313.25 L293.75 326.25 L298.75 333.75 L305.5 353.75 L330.5 393.25 L348 401.25 L360 401.25 L380 405 L389.5 409.25 L403 421.25 L428.75 460.75 L437.5 465 L444.5 445 L453 441.25 L455 429.5 L464.5 431.25 L475 414.5 L481.75 409.5 L471.75 411.25 L468.75 400 L468.25 385 L456.25 385 L449.25 379.25 L439.25 376.75 L430.75 373.25 L420.75 357.5 L411.25 351.25 L406.75 315 L399.5 309.25 L406.25 313.75 L416.25 331.75 L425 335 L435.5 333.25 L440.5 341.25 L450.75 343.25 L456.75 351.75 L464.5 355 L470.5 363 L480 369.5 L488.75 373.75 L497.5 375.5 L489.25 379.25 L498.75 377.5 L505.5 383.75 L507.5 395 L515 401.25 L525 417 L525 431.25 L520 439.5 L518 450.75 L525 456.75 L530.5 465.5 L537 471.25 L543.75 479.25 L553.75 477 L562.5 478.75 L573 483 L591.25 486.75 L610.5 495 L620.75 510.75 L630 512.5 L646.25 520 L658.25 524.5 L672 537 L677.5 545 L685.5 548.75 L693 555 L698 563 L705 569.5 L710.5 579.5 L717 585 L722 593.75 L725.5 603 L721.75 612.5 L723.25 623.75 L728.75 633 L721.25 639.25 L717 646.75 L727.5 644.5 L718.75 648.75 L717 661.25 L708 668.25 L702 674.25 L699.5 682.5 L709.5 698 L723.75 710.5 L728.75 718.25 L737.5 722.5 L749.5 720 L783.25 736.75 L788.75 730 L789.25 715 L786.25 706.25 L780 697 L763.75 689.5 L758.75 682.5 L751.25 661.25 L773 656.75 L783.75 672.5 L800 680 L811.25 683 L818 688.25 L806.25 689.5 L811.25 696.25 L821.25 698.25 L812.5 702.5 L817.5 710 L821.25 722.5 L816.25 732.5 L814.5 742.5 L827.5 753.75 L837.5 758.75 L845 766.25 L853.75 780 L860.5 798.75 L860.5 814.25 L867.5 814.25 L869.5 802.5 L866.25 792.5 L865.75 780 L867 767.5 L872.5 758.75 L885 753 L892.5 750 L900.5 748.25 L910 750 L921.25 752.5 L930 756.25 L937.5 758"/>
<path d="M322 129.5 L325 121.25 L330 112.5 L335 101.75 L344.5 100 L352.5 107 L360 112.5 L370 116.25 L387.5 119.5 L473.12 159.62 L481.25 156 L496.25 143.5 L505 139.38 L511.25 133.75 L519.38 129.62 L526.25 135.62 L538.12 135.62 L543.75 140.62 L553.12 145 L560.62 153.5 L569.38 157.5 L579.38 147.5 L581.88 155 L582.5 156.25 L588.12 165.25 L605 173.12 L607.5 180 L609.38 187 L610.5 195 L622.5 195.5 L631.25 199.5 L639.38 195.62 L647.5 199.38 L661.88 211.25 L672.5 209 L681.25 205 L688.75 199.75 L697.5 198.12 L706.25 194.38 L715 187.25 L713.75 175 L711.88 162.5"/>
<path d="M326.25 79 L332.5 85.5 L342.5 90 L350 93.75 L355 101.75 L363.75 106.25 L372.5 109.5 L385 111.25 L395 114.25 L402 118 L408.25 123.25 L418.75 125.5 L430 125.5 L440 128 L450 132.5 L457.5 135.62 L469.38 135.62 L478.12 139.62 L488.12 137.88 L493.75 133.75 L496.88 127.5 L497.5 116.25 L497.25 108.75 L498.75 98.75 L496.88 90 L493.12 83.75 L490 79.25"/>
<path d="M450.25 101.25 L456.25 109.38 L447.5 113.5 L450.25 101.25"/>
<path d="M422 343.75 L432.5 345.75 L437.5 353 L427.5 355.5 L420.5 348.75 L422 343.75"/>
<path d="M673.75 79 L675 95 L678.75 110 L683.75 125 L691.25 140 L697.5 150 L700.62 155.62 L703.12 163.12 L713.12 161.88 L716.25 163.12 L720 168.12 L723.12 173.75 L725.62 181.25 L728.75 191.25 L723.75 183.5 L723.5 191.25 L722.5 198.75 L720.25 207.5 L728.75 203.5 L732.5 208.75 L734.38 215 L736.25 224.38 L741.88 242.5 L747.5 251.25 L751.25 261.88 L756.25 269.5 L759.5 278.75 L769.5 296.25 L785 318.75 L792.5 325.5 L817.5 365 L824.5 371.25 L835 369.25 L838.75 380 L850 397 L869.5 427 L877.5 430.75 L881.25 440 L886.25 448.75 L895 453 L915.5 457 L921.25 465.5 L937.5 478.25"/>
<path d="M925.5 469.5 L921.25 470.75 L917.5 480.75 L908.75 485 L895 472.5 L889.5 465 L881.25 461.25 L871.25 463 L865.5 470.75 L869 477 L873 483.25 L872.75 485.25 L868 485 L859.5 488.75 L855.75 493.75 L854 498 L854 580 L855.5 582.5 L866.25 585 L874.5 588.75 L881.25 597.5 L889.5 600.75 L895 608.75 L892 617.5 L885 623.75 L868 632 L864.5 642 L857.5 648.75 L860 657.5 L865 666.25 L871.25 675.5 L873.75 692.5 L874.5 712 L868.75 721.25 L861.25 726.25 L852.5 728.75 L847.5 736.25 L840 742.5 L831.75 746.75 L841.75 759.25 L853.75 765 L856.25 777.5 L860 790 L862.5 797.5 L862.5 814.25"/>
</g>
<rect x="262.5" y="79.25" width="675.0" height="741.0" fill="none" stroke="#000" stroke-width="1.4"/>
<g class="tick">
<line x1="301.07" y1="820.25" x2="301.07" y2="825.45"/>
<line x1="358.93" y1="820.25" x2="358.93" y2="825.45"/>
<line x1="416.79" y1="820.25" x2="416.79" y2="825.45"/>
<line x1="474.64" y1="820.25" x2="474.64" y2="825.45"/>
<line x1="532.50" y1="820.25" x2="532.50" y2="825.45"/>
<line x1="590.36" y1="820.25" x2="590.36" y2="825.45"/>
<line x1="648.21" y1="820.25" x2="648.21" y2="825.45"/>
<line x1="706.07" y1="820.25" x2="706.07" y2="825.45"/>
<line x1="763.93" y1="820.25" x2="763.93" y2="825.45"/>
<line x1="821.79" y1="820.25" x2="821.79" y2="825.45"/>
<line x1="879.64" y1="820.25" x2="879.64" y2="825.45"/>
<line x1="262.5" y1="124.43" x2="257.1" y2="124.43"/>
<line x1="262.5" y1="191.79" x2="257.1" y2="191.79"/>
<line x1="262.5" y1="259.16" x2="257.1" y2="259.16"/>
<line x1="262.5" y1="326.52" x2="257.1" y2="326.52"/>
<line x1="262.5" y1="393.88" x2="257.1" y2="393.88"/>
<line x1="262.5" y1="461.25" x2="257.1" y2="461.25"/>
<line x1="262.5" y1="528.61" x2="257.1" y2="528.61"/>
<line x1="262.5" y1="595.97" x2="257.1" y2="595.97"/>
<line x1="262.5" y1="663.34" x2="257.1" y2="663.34"/>
<line x1="262.5" y1="730.70" x2="257.1" y2="730.70"/>
<line x1="262.5" y1="798.07" x2="257.1" y2="798.07"/>
</g>
<g class="lab" font-size="16.9" fill="#000">
<text y="840.75"><tspan x="278.5" textLength="29.52" lengthAdjust="spacingAndGlyphs">85.8</tspan><tspan x="308.62" textLength="13.9" lengthAdjust="spacingAndGlyphs">W</tspan></text>
<text y="840.75"><tspan x="336.35" textLength="29.52" lengthAdjust="spacingAndGlyphs">85.5</tspan><tspan x="366.47" textLength="13.9" lengthAdjust="spacingAndGlyphs">W</tspan></text>
<text y="840.75"><tspan x="394.21" textLength="29.64" lengthAdjust="spacingAndGlyphs">85.2</tspan><tspan x="424.33" textLength="13.9" lengthAdjust="spacingAndGlyphs">W</tspan></text>
<text y="840.75"><tspan x="452.07" textLength="29.58" lengthAdjust="spacingAndGlyphs">84.9</tspan><tspan x="482.19" textLength="13.9" lengthAdjust="spacingAndGlyphs">W</tspan></text>
<text y="840.75"><tspan x="509.92" textLength="29.58" lengthAdjust="spacingAndGlyphs">84.6</tspan><tspan x="540.05" textLength="13.9" lengthAdjust="spacingAndGlyphs">W</tspan></text>
<text y="840.75"><tspan x="567.78" textLength="29.58" lengthAdjust="spacingAndGlyphs">84.3</tspan><tspan x="597.9" textLength="13.9" lengthAdjust="spacingAndGlyphs">W</tspan></text>
<text y="840.75"><tspan x="632.87" textLength="14.91" lengthAdjust="spacingAndGlyphs">84</tspan><tspan x="648.61" textLength="13.9" lengthAdjust="spacingAndGlyphs">W</tspan></text>
<text y="840.75"><tspan x="683.49" textLength="29.64" lengthAdjust="spacingAndGlyphs">83.7</tspan><tspan x="713.62" textLength="13.9" lengthAdjust="spacingAndGlyphs">W</tspan></text>
<text y="840.75"><tspan x="741.36" textLength="29.34" lengthAdjust="spacingAndGlyphs">83.4</tspan><tspan x="771.47" textLength="13.9" lengthAdjust="spacingAndGlyphs">W</tspan></text>
<text y="840.75"><tspan x="799.21" textLength="29.64" lengthAdjust="spacingAndGlyphs">83.1</tspan><tspan x="829.33" textLength="13.9" lengthAdjust="spacingAndGlyphs">W</tspan></text>
<text y="840.75"><tspan x="857.07" textLength="29.52" lengthAdjust="spacingAndGlyphs">82.8</tspan><tspan x="887.19" textLength="13.9" lengthAdjust="spacingAndGlyphs">W</tspan></text>
<text y="130.58"><tspan x="209.72" textLength="32.34" lengthAdjust="spacingAndGlyphs">11.1</tspan><tspan x="242.49" textLength="10.72" lengthAdjust="spacingAndGlyphs">N</tspan></text>
<text y="197.94"><tspan x="209.78" textLength="32.12" lengthAdjust="spacingAndGlyphs">10.8</tspan><tspan x="242.49" textLength="10.72" lengthAdjust="spacingAndGlyphs">N</tspan></text>
<text y="265.31"><tspan x="209.78" textLength="32.12" lengthAdjust="spacingAndGlyphs">10.5</tspan><tspan x="242.49" textLength="10.72" lengthAdjust="spacingAndGlyphs">N</tspan></text>
<text y="332.67"><tspan x="209.77" textLength="32.26" lengthAdjust="spacingAndGlyphs">10.2</tspan><tspan x="242.49" textLength="10.72" lengthAdjust="spacingAndGlyphs">N</tspan></text>
<text y="400.03"><tspan x="218.24" textLength="23.74" lengthAdjust="spacingAndGlyphs">9.9</tspan><tspan x="242.49" textLength="10.72" lengthAdjust="spacingAndGlyphs">N</tspan></text>
<text y="467.40"><tspan x="218.24" textLength="23.74" lengthAdjust="spacingAndGlyphs">9.6</tspan><tspan x="242.49" textLength="10.72" lengthAdjust="spacingAndGlyphs">N</tspan></text>
<text y="534.76"><tspan x="218.24" textLength="23.74" lengthAdjust="spacingAndGlyphs">9.3</tspan><tspan x="242.49" textLength="10.72" lengthAdjust="spacingAndGlyphs">N</tspan></text>
<text y="602.12"><tspan x="232.77" textLength="9.18" lengthAdjust="spacingAndGlyphs">9</tspan><tspan x="242.49" textLength="10.72" lengthAdjust="spacingAndGlyphs">N</tspan></text>
<text y="669.49"><tspan x="218.24" textLength="23.81" lengthAdjust="spacingAndGlyphs">8.7</tspan><tspan x="242.49" textLength="10.72" lengthAdjust="spacingAndGlyphs">N</tspan></text>
<text y="736.85"><tspan x="218.25" textLength="23.47" lengthAdjust="spacingAndGlyphs">8.4</tspan><tspan x="242.49" textLength="10.72" lengthAdjust="spacingAndGlyphs">N</tspan></text>
<text y="804.22"><tspan x="218.24" textLength="23.81" lengthAdjust="spacingAndGlyphs">8.1</tspan><tspan x="242.49" textLength="10.72" lengthAdjust="spacingAndGlyphs">N</tspan></text>
</g>
<g stroke="#000" stroke-width="1.35" stroke-linejoin="miter">
<rect x="1057.9" y="725.05" width="21.70" height="42.35" fill="#66ffff"/>
<rect x="1057.9" y="682.69" width="21.70" height="42.35" fill="#3399ff"/>
<rect x="1057.9" y="640.34" width="21.70" height="42.35" fill="#0000ff"/>
<rect x="1057.9" y="597.99" width="21.70" height="42.35" fill="#00ff00"/>
<rect x="1057.9" y="555.63" width="21.70" height="42.35" fill="#00cc00"/>
<rect x="1057.9" y="513.28" width="21.70" height="42.35" fill="#009900"/>
<rect x="1057.9" y="470.93" width="21.70" height="42.35" fill="#ffff00"/>
<rect x="1057.9" y="428.57" width="21.70" height="42.35" fill="#ffcc00"/>
<rect x="1057.9" y="386.22" width="21.70" height="42.35" fill="#ff6600"/>
<rect x="1057.9" y="343.87" width="21.70" height="42.35" fill="#ff0000"/>
<rect x="1057.9" y="301.51" width="21.70" height="42.35" fill="#cc3300"/>
<rect x="1057.9" y="259.16" width="21.70" height="42.35" fill="#990000"/>
<rect x="1057.9" y="216.81" width="21.70" height="42.35" fill="#ff00ff"/>
<rect x="1057.9" y="174.45" width="21.70" height="42.35" fill="#9933cc"/>
<rect x="1057.9" y="132.10" width="21.70" height="42.35" fill="#f5f5f5"/>
<path d="M1057.9 132.1 L1068.75 89.6 L1079.6 132.1Z" fill="#a9a9a9"/>
<path d="M1057.9 767.4 L1068.75 810.7 L1079.6 767.4Z" fill="#fff"/>
</g>
<g class="lab" font-size="19.3" fill="#000">
<text x="1085.81" y="774.80" textLength="31.82" lengthAdjust="spacingAndGlyphs">3.5</text>
<text x="1085.56" y="732.45" textLength="12.27" lengthAdjust="spacingAndGlyphs">7</text>
<text x="1086.0" y="690.09" textLength="44.41" lengthAdjust="spacingAndGlyphs">12.5</text>
<text x="1086.04" y="647.74" textLength="24.77" lengthAdjust="spacingAndGlyphs">15</text>
<text x="1085.6" y="605.39" textLength="25.26" lengthAdjust="spacingAndGlyphs">20</text>
<text x="1085.59" y="563.03" textLength="25.34" lengthAdjust="spacingAndGlyphs">25</text>
<text x="1085.83" y="520.68" textLength="25.02" lengthAdjust="spacingAndGlyphs">30</text>
<text x="1086.2" y="478.33" textLength="24.64" lengthAdjust="spacingAndGlyphs">40</text>
<text x="1085.83" y="435.97" textLength="25.02" lengthAdjust="spacingAndGlyphs">50</text>
<text x="1085.52" y="393.62" textLength="25.34" lengthAdjust="spacingAndGlyphs">60</text>
<text x="1085.54" y="351.27" textLength="24.88" lengthAdjust="spacingAndGlyphs">75</text>
<text x="1085.67" y="308.91" textLength="25.18" lengthAdjust="spacingAndGlyphs">90</text>
<text x="1086.0" y="266.56" textLength="38.16" lengthAdjust="spacingAndGlyphs">100</text>
<text x="1086.0" y="224.21" textLength="38.16" lengthAdjust="spacingAndGlyphs">120</text>
<text x="1086.0" y="181.85" textLength="38.16" lengthAdjust="spacingAndGlyphs">150</text>
<text x="1085.57" y="139.50" textLength="38.69" lengthAdjust="spacingAndGlyphs">200</text>
</g>
<g class="thin" fill="#000">
<text y="30" font-size="30.2" stroke="#000" stroke-width="0.32"><tspan x="130.39" textLength="53.26" lengthAdjust="spacingAndGlyphs">IMN</tspan><tspan x="184.83" textLength="15.9" lengthAdjust="spacingAndGlyphs" font-size="38.5" dy="3.4" stroke="#fff" stroke-width="0.55">/</tspan><tspan x="203.09" textLength="151.61" lengthAdjust="spacingAndGlyphs" dy="-3.4">SARAPIQUI</tspan><tspan x="353.49" textLength="18.67" lengthAdjust="spacingAndGlyphs">_</tspan><tspan x="372.33" textLength="21.38" lengthAdjust="spacingAndGlyphs">5</tspan> <tspan x="408.31" textLength="193.71" lengthAdjust="spacingAndGlyphs">Precipitacion</tspan> <tspan x="617.15" textLength="163.68" lengthAdjust="spacingAndGlyphs">Acumulada</tspan> <tspan x="795.72" textLength="36.16" lengthAdjust="spacingAndGlyphs">en</tspan> <tspan x="847.68" textLength="20.09" lengthAdjust="spacingAndGlyphs">6</tspan> <tspan x="884.81" textLength="84.37" lengthAdjust="spacingAndGlyphs">horas</tspan> <tspan x="984.01" textLength="86.77" lengthAdjust="spacingAndGlyphs">(mm)</tspan></text>
<text y="62" font-size="30.2" stroke="#000" stroke-width="0.32"><tspan x="461.68" textLength="77.22" lengthAdjust="spacingAndGlyphs">2026</tspan><tspan x="537.88" textLength="25.53" lengthAdjust="spacingAndGlyphs">-</tspan><tspan x="562.5" textLength="35.8" lengthAdjust="spacingAndGlyphs">01</tspan><tspan x="600.38" textLength="25.53" lengthAdjust="spacingAndGlyphs">-</tspan><tspan x="624.73" textLength="39.66" lengthAdjust="spacingAndGlyphs">02</tspan> <tspan x="681.19" textLength="56.34" lengthAdjust="spacingAndGlyphs">00Z</tspan></text>
<text transform="scale(1.13 1)" y="876.7" font-size="21.6" fill="#000"><tspan x="288.53" textLength="92.85" lengthAdjust="spacing">Instituto</tspan> <tspan x="392.40" textLength="157.10" lengthAdjust="spacing">Meteorologico</tspan> <tspan x="561.71" textLength="97.78" lengthAdjust="spacing">Nacional</tspan> <tspan x="670.75" textLength="64.71" lengthAdjust="spacing">Costa</tspan> <tspan x="747.20" textLength="48.77" lengthAdjust="spacing">Rica</tspan></text>
</g>
</svg></body></html>
